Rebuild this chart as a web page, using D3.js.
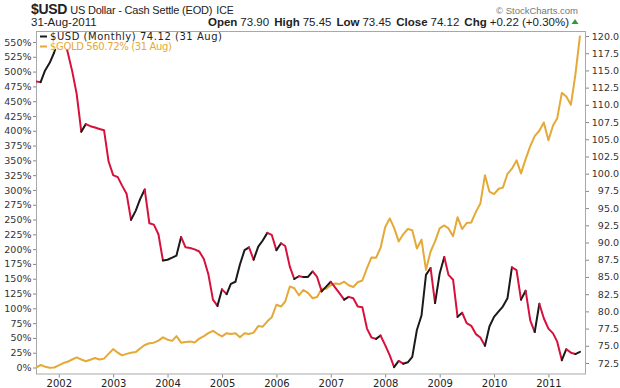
<!DOCTYPE html>
<html><head><meta charset="utf-8">
<script src="https://cdn.jsdelivr.net/npm/d3@7"></script>
<style>
html,body{margin:0;padding:0;background:#fff;}
svg{display:block;}
</style></head>
<body>
<svg id="c" width="620" height="388"></svg>
<script>
// ---- data ----
const firstMonth = "2001-08";
const lastMonth = "2011-08";
// US Dollar index, monthly closes (right axis)
const usdValues = [
113.4,113.3,115.0,116.1,117.6,119.8,119.9,117.7,114.9,111.6,
106.1,107.2,106.9,106.7,106.5,106.3,101.8,99.8,99.5,98.3,
97.1,93.3,94.6,96.3,97.7,92.8,92.6,91.2,87.4,87.5,
87.8,88.1,90.8,89.3,89.2,89.0,88.7,87.6,85.4,81.7,
80.8,83.2,82.5,84.0,84.3,86.8,88.9,89.3,87.5,89.4,
90.3,91.4,91.1,88.9,89.9,89.5,86.5,84.7,85.1,85.0,
85.0,85.8,85.0,82.9,83.6,84.3,83.4,82.6,81.7,82.1,
81.9,80.7,80.6,77.5,76.2,76.0,76.5,75.1,73.6,71.9,
72.8,72.4,72.6,73.4,77.3,79.4,85.3,86.3,81.2,85.5,
87.9,85.3,84.6,79.2,79.8,78.3,77.9,76.7,76.2,75.0,
77.8,79.2,80.0,80.7,81.9,86.4,86.0,81.7,83.0,78.7,
77.0,81.1,79.0,77.5,76.8,75.6,72.9,74.5,74.0,73.8,
74.12];
// Gold, % change since first month (left axis)
const goldPct = [
0,4.2,1.4,-0.5,0,3.5,7.5,9.7,13.5,17,
13.5,10.5,13,16,13.5,15,23,31,25,20.5,
23,25,26,32,38,41,42,45.5,51,47,
45,53,42,43,44,42.4,48.8,53,58,62,
57,52.5,58,56.5,58,51,58,56.6,59,70,
69,78,85,106,103,111.5,137,134,122,131,
126,117,119,133,133,139,142,141,145,139,
136,144,147,168,186,185.5,202,237,252,236,
213,225,234,232,201,216,165,196,213,235,
240,235,222,254,234,244,245,263,277,325,
297,293,302,304,327,336,350,328,352,374,
391,400,414,384,409,421,464,458,444,495,
560.72];
const leftTicks = d3.range(0, 551, 25);
const rightTicks = d3.range(72.5, 120.01, 2.5);
const yearLabels = ["2002","2003","2004","2005","2006","2007","2008","2009","2010","2011"];

// ---- layout ----
const plot = {l:36, r:586, t:31, b:374.5};
const colUp = "#1a1a1a", colDown = "#d8103c", colGold = "#e4a937";
const axisFont = "DejaVu Sans, Verdana, sans-serif";

const svg = d3.select("#c");
const parse = d3.timeParse("%Y-%m");
const months = d3.timeMonth.range(parse(firstMonth), d3.timeMonth.offset(parse(lastMonth),1));

const x = d3.scaleTime().domain([months[0], months[months.length-1]]).range([36, 580]);
const yL = d3.scaleLinear().domain([0, 550]).range([367.5, 42]);
const yR = d3.scaleLinear().domain([72.5, 120]).range([363, 36]);

svg.append("defs").append("clipPath").attr("id","clip")
  .append("rect").attr("x",plot.l).attr("y",plot.t).attr("width",plot.r-plot.l).attr("height",plot.b-plot.t);

// frame
svg.append("rect").attr("x",plot.l+0.5).attr("y",plot.t+0.5)
  .attr("width",plot.r-plot.l-1).attr("height",plot.b-plot.t-1)
  .attr("fill","none").attr("stroke","#a8a8a8").attr("stroke-width",1);

const g = svg.append("g").attr("clip-path","url(#clip)");

// gold line
const goldData = months.map((m,i)=>({m, v:goldPct[i]}));
g.append("path").datum(goldData)
  .attr("d", d3.line().x(d=>x(d.m)).y(d=>yL(d.v)))
  .attr("fill","none").attr("stroke",colGold).attr("stroke-width",2).attr("stroke-linejoin","round");

// USD line, colored by direction
const usdData = months.map((m,i)=>({m, v:usdValues[i]}));
const runs = [];
for (let i=0;i<usdData.length-1;i++){
  const up = usdData[i+1].v >= usdData[i].v;
  if (runs.length && runs[runs.length-1].up===up) runs[runs.length-1].pts.push(usdData[i+1]);
  else runs.push({up, pts:[usdData[i], usdData[i+1]]});
}
const lineR = d3.line().x(d=>x(d.m)).y(d=>yR(d.v));
g.selectAll("path.usd").data(runs).join("path").attr("class","usd")
  .attr("d", d=>lineR(d.pts))
  .attr("fill","none").attr("stroke",d=>d.up?colUp:colDown)
  .attr("stroke-width",2).attr("stroke-linejoin","round").attr("stroke-linecap","round");

// legend box
svg.append("rect").attr("x",plot.l+1).attr("y",plot.t+1).attr("width",192).attr("height",17).attr("fill","#fff");
const lg = svg.append("g").attr("font-family",axisFont).attr("font-size","10px");
lg.append("line").attr("x1",40).attr("x2",47).attr("y1",36.5).attr("y2",36.5).attr("stroke",colUp).attr("stroke-width",2);
lg.append("text").attr("x",50).attr("y",40).attr("fill","#222")
  .attr("textLength",172).attr("lengthAdjust","spacing").text("$USD (Monthly) 74.12 (31 Aug)");
lg.append("line").attr("x1",40).attr("x2",47).attr("y1",46.5).attr("y2",46.5).attr("stroke",colGold).attr("stroke-width",2);
lg.append("text").attr("x",50).attr("y",50).attr("fill",colGold)
  .attr("textLength",122).attr("lengthAdjust","spacing").text("$GOLD 560.72% (31 Aug)");

// left axis
const axL = d3.axisLeft(yL).tickValues(leftTicks).tickSize(3).tickPadding(1.5).tickFormat(d=>d+"%");
const gL = svg.append("g").attr("transform",`translate(${plot.l},0)`).call(axL);
gL.select(".domain").remove();
gL.selectAll("line").attr("stroke","#888");
gL.selectAll("text").attr("font-family",axisFont).attr("font-size","9.5px").attr("fill","#333");

// right axis
const axR = d3.axisRight(yR).tickValues(rightTicks).tickSize(3).tickPadding(2).tickFormat(d3.format(".1f"));
const gR = svg.append("g").attr("transform",`translate(${plot.r},0)`).call(axR);
gR.select(".domain").remove();
gR.selectAll("line").attr("stroke","#888");
gR.selectAll("text").attr("font-family",axisFont).attr("font-size","9.5px").attr("fill","#333")
  .attr("text-anchor","end").attr("x",33);

// bottom axis (years)
const yearDates = yearLabels.map(y=>parse(y+"-01"));
const axB = d3.axisBottom(x).tickValues(yearDates).tickSize(3).tickPadding(2).tickFormat((d,i)=>yearLabels[i]);
const gB = svg.append("g").attr("transform",`translate(0,${plot.b})`).call(axB);
gB.select(".domain").remove();
gB.selectAll("line").attr("stroke","#888");
gB.selectAll("text").attr("font-family",axisFont).attr("font-size","10px").attr("fill","#222");

// header
const hd = svg.append("g").attr("font-family","Liberation Sans, Arial, sans-serif").attr("fill","#222");
const t1 = hd.append("text").attr("x",31).attr("y",14);
t1.append("tspan").attr("font-weight","bold").attr("font-size","14px").attr("letter-spacing","-0.3").text("$USD");
t1.append("tspan").attr("font-size","11px").attr("dx",3).attr("letter-spacing","-0.2").text("US Dollar - Cash Settle (EOD)");
t1.append("tspan").attr("font-size","10.5px").attr("dx",4).text("ICE");
hd.append("text").attr("x",31).attr("y",25.5).attr("font-size","11.5px").text("31-Aug-2011");
const t2 = hd.append("text").attr("x",569).attr("y",25.5).attr("text-anchor","end").attr("font-size","11.5px");
[["Open","73.90"],["High","75.45"],["Low","73.45"],["Close","74.12"],["Chg","+0.22 (+0.30%)"]].forEach((p,i)=>{
  t2.append("tspan").attr("font-weight","bold").attr("dx", i?5:0).text(p[0]);
  t2.append("tspan").attr("dx",3).text(p[1]);
});
hd.append("path").attr("d","M571.5,24 L575,19 L578.5,24 Z").attr("fill","#2e9a3a");
hd.append("text").attr("x",578).attr("y",14).attr("text-anchor","end").attr("font-size","9.5px").attr("fill","#777").text("© StockCharts.com");
</script>
</body></html>
